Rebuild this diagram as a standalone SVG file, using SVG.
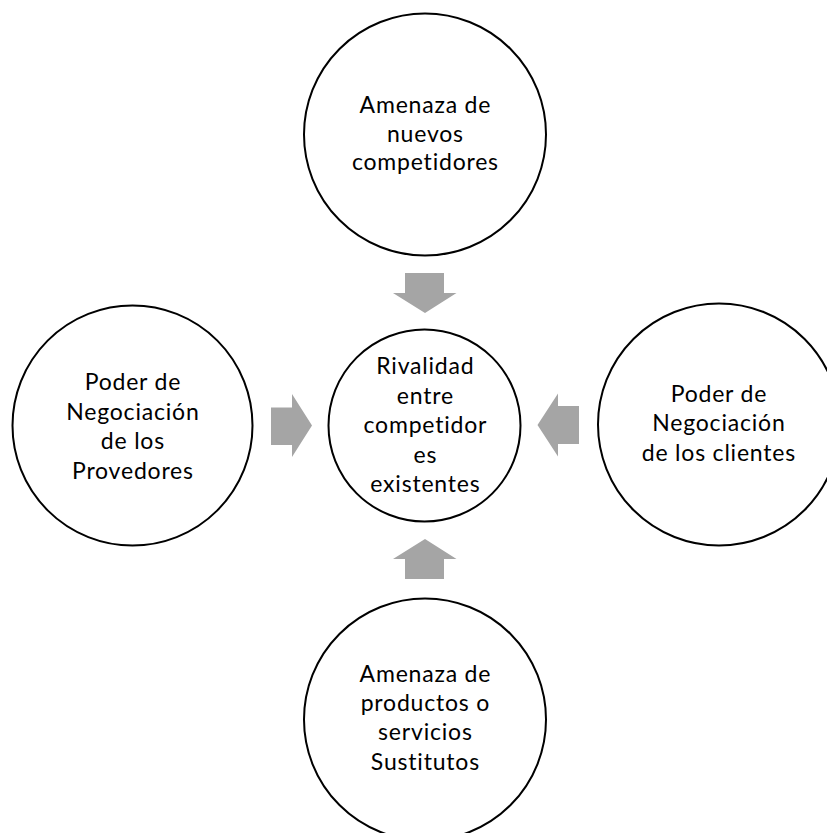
<svg xmlns="http://www.w3.org/2000/svg" width="827" height="833" viewBox="0 0 827 833">
<style>
.node circle{fill:#fff;stroke:#000;stroke-width:2}
.node text{font-family:Lato,"Liberation Sans",sans-serif;font-size:23px;letter-spacing:0.8px;font-variant-ligatures:none;fill:#000;text-anchor:middle}
.arr{fill:#A5A5A5}
</style>
<rect width="827" height="833" fill="#fff"/>
<g id="connectors">
<polygon class="arr" points="405,273 444,273 444,293 456.5,293 425,313 393,293 405,293"/>
<polygon class="arr" points="405,579 444,579 444,559 456.5,559 425,539 393,559 405,559"/>
<polygon class="arr" points="271,407.5 292,407.5 292,394 312,425.5 292,457 292,445 271,445"/>
<polygon class="arr" points="579,406 558,406 558,393.5 537.5,425 558,456.5 558,444 579,444"/>
</g>
<g id="top" class="node">
<circle cx="425" cy="134.5" r="121"/>
<text x="425.4" y="113">Amenaza de</text>
<text x="425.4" y="141.5">nuevos</text>
<text x="425.4" y="170">competidores</text>
</g>
<g id="center" class="node">
<circle cx="424.5" cy="425.5" r="96"/>
<text x="425.4" y="374">Rivalidad</text>
<text x="425.4" y="403.5">entre</text>
<text x="425.4" y="433">competidor</text>
<text x="425.4" y="462.5">es</text>
<text x="425.4" y="492">existentes</text>
</g>
<g id="left" class="node">
<circle cx="132.5" cy="425.5" r="120"/>
<text x="132.9" y="390">Poder de</text>
<text x="132.9" y="419.5">Negociación</text>
<text x="132.9" y="449">de los</text>
<text x="132.9" y="478.5">Provedores</text>
</g>
<g id="right" class="node">
<circle cx="719" cy="424.5" r="121"/>
<text x="718.9" y="401.5">Poder de</text>
<text x="718.9" y="431">Negociación</text>
<text x="718.9" y="460.5">de los clientes</text>
</g>
<g id="bottom" class="node">
<circle cx="425" cy="719.5" r="121"/>
<text x="425.4" y="681.5">Amenaza de</text>
<text x="425.4" y="711">productos o</text>
<text x="425.4" y="740">servicios</text>
<text x="425.4" y="769.5">Sustitutos</text>
</g>
</svg>
